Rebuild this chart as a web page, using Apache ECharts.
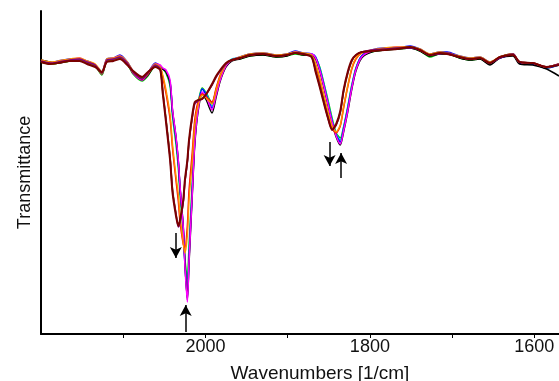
<!DOCTYPE html>
<html>
<head>
<meta charset="utf-8">
<script src="https://cdn.jsdelivr.net/npm/echarts@6/dist/echarts.min.js"></script>
<style>
html,body{margin:0;padding:0;background:#fff;}
#chart{width:559px;height:381px;}
</style>
</head>
<body>
<div id="chart"></div>
<script>
// Wavenumbers (1/cm)
const wavenumbers = [
 2200,2189,2179,2165,2153,2144,2134,2126,2120,2112,2104,2095,2088,2077,2070,2061,2055,
 2052,2048,2043,2040,2036,2033,2031,2027,2025,2022,2020,2016,2013,2009,2004,1999,1992,1987,1982,1975,1968,
 1958,1946,1930,1913,1901,1891,1881,1871,
 1866,1861,1856,1851,1846,1841,1836,1832,1827,1822,1817,1810,
 1798,1782,1767,1751,1739,1727,1715,1706,1691,1678,1666,1654,1642,1626,1618,1602,1585,1570
];
// Transmittance (arbitrary units), one array per spectrum
const green = [
 272,270,271,273,274,271,268,259,273,274,276,270,260,253,258,268,266,
 265,261,248,217,191,166,140,102,76,55,88,152,200,230,246,241,231,244,257,269,274,
 275,278,279,277,278,280,279,279,
 276,267,251,234,216,201,196,207,227,249,266,278,
 282,284,285,286,283,277,280,280,276,274,275,270,276,279,271,270,266,269
];
const cyan = [
 273,271,272,274,275,272,269,262,274,275,277,271,262,255,260,269,267,
 266,263,250,220,195,170,145,104,72,42,78,146,195,228,245,240,228,242,256,269,275,
 276,279,280,278,279,282,280,280,
 277,266,250,232,214,200,194,206,226,248,265,278,
 283,285,286,287,284,279,281,281,277,275,276,271,277,280,272,271,267,270
];
const blue = [
 272,271,273,275,275,273,269,262,275,276,279,272,263,256,261,271,268,
 265,263,252,222,197,172,147,106,70,36,75,143,192,226,245,239,226,240,255,268,274,
 277,280,281,279,280,283,281,280,
 277,265,249,231,213,199,192,205,225,247,265,278,
 284,286,286,288,285,280,282,282,278,276,277,272,276,279,271,270,266,269
];
const black = [
 274,272,271,273,274,271,268,260,273,274,276,270,261,254,259,268,266,
 265,262,251,223,198,173,148,108,72,34,70,139,189,222,240,234,221,237,253,267,273,
 275,278,279,277,278,281,279,279,
 275,263,247,229,211,197,189,202,222,245,263,276,
 282,284,285,286,283,278,280,280,276,274,275,269,276,278,270,269,265,258
];
const magenta = [
 273,270,272,274,276,272,268,260,274,276,278,271,261,254,260,270,269,
 266,264,254,224,199,174,149,107,69,32,72,141,191,224,242,237,224,239,254,268,274,
 276,279,280,278,279,282,280,280,
 276,264,248,230,212,198,190,203,223,246,264,277,
 283,285,287,287,284,279,281,281,277,275,276,271,277,280,272,271,267,270
];
const red = [
 273,271,272,274,275,272,269,261,274,275,277,271,262,255,260,269,266,
 257,241,215,185,155,133,113,90,86,108,143,182,214,232,240,237,232,246,259,270,274,
 276,279,280,278,279,281,280,279,
 269,254,237,220,206,201,208,226,247,265,275,281,
 283,285,286,287,284,279,281,280,277,275,276,271,277,280,272,271,267,270
];
const orange = [
 274,272,273,275,276,273,270,262,275,276,278,272,263,256,261,270,267,
 259,244,219,189,159,139,119,91,81,99,134,174,209,229,239,236,230,244,258,270,274,
 277,280,281,279,280,282,281,279,
 270,256,239,222,208,202,209,227,248,266,276,281,
 284,286,287,287,285,280,282,281,278,276,277,272,277,280,272,271,267,270
];
const olive = [
 272,270,271,273,274,271,268,260,273,274,276,270,262,256,261,268,265,
 245,216,178,145,122,110,112,132,152,172,192,217,231,234,236,240,249,257,263,270,274,
 276,279,280,278,279,281,280,278,
 264,249,233,217,205,209,221,242,260,273,279,282,
 283,285,286,287,284,279,281,281,277,275,276,271,277,280,272,271,267,270
];
const purple = [
 273,271,272,274,275,272,269,261,274,275,277,271,262,255,261,269,265,
 243,214,176,143,121,107,111,131,151,171,191,216,230,233,235,240,249,257,263,270,274,
 276,279,280,278,279,281,280,277,
 263,248,232,216,204,209,222,243,261,273,279,282,
 284,285,286,286,284,279,280,281,277,275,276,271,276,280,272,271,267,270
];
const darkBrown = [
 272,270,271,273,273,270,267,262,272,273,275,269,263,257,262,267,264,
 241,212,174,141,119,108,114,134,154,174,194,219,232,234,235,240,250,258,264,271,274,
 276,279,280,278,279,281,280,277,
 262,247,231,216,204,210,223,244,262,274,279,282,
 283,284,285,287,284,279,281,280,277,275,276,271,277,279,272,271,267,269
];
// Arrow annotations: [wavenumber, tail value, head value]
const arrows = [
 [2036, 101, 76],
 [2024, 2, 29],
 [1849, 192, 168],
 [1835, 156, 181]
];
const tickValues = [2100, 2000, 1900, 1800, 1700, 1600];
const labelValues = [2000, 1800, 1600];

const spectra = [
 ['green', green, '#00c000'],
 ['cyan', cyan, '#00e0e0'],
 ['blue', blue, '#0000ff'],
 ['black', black, '#000000'],
 ['magenta', magenta, '#ff00ff'],
 ['red', red, '#ff0000'],
 ['orange', orange, '#ff8c00'],
 ['olive', olive, '#808000'],
 ['purple', purple, '#800080'],
 ['darkBrown', darkBrown, '#7a0000']
];
spectra.forEach(s => { if (s[1].length !== wavenumbers.length) throw new Error(s[0] + ' length ' + s[1].length); });

const series = spectra.map(([name, vals, color]) => ({
  type: 'line', name: name, showSymbol: false, smooth: 0.25,
  lineStyle: {width: name === 'darkBrown' ? 2 : 1.5, color: color},
  itemStyle: {color: color},
  data: wavenumbers.map((w, i) => [w, vals[i]]),
  z: 2
}));
series.push({
  type: 'line', data: [], silent: true,
  markLine: {
    silent: true, animation: false,
    symbol: ['none', 'arrow'], symbolSize: [9, 11],
    label: {show: false},
    lineStyle: {color: '#000', width: 1.5, type: 'solid'},
    data: arrows.map(a => [{coord: [a[0], a[1]]}, {coord: [a[0], a[2]]}])
  }
});

const chart = echarts.init(document.getElementById('chart'), null, {renderer: 'canvas'});
chart.setOption({
  animation: false,
  backgroundColor: '#fff',
  grid: {left: 41, right: 0, top: 11, bottom: 47, containLabel: false, outerBoundsMode: 'none'},
  xAxis: {
    type: 'value', inverse: true, min: 1570, max: 2200,
    name: 'Wavenumbers [1/cm]', nameLocation: 'middle', nameGap: 30,
    nameTextStyle: {fontFamily: 'Liberation Sans', fontSize: 19, color: '#111', padding: [0, 0, 0, 40]},
    axisLine: {lineStyle: {color: '#000', width: 2}},
    axisTick: {show: true, customValues: tickValues, length: 4, lineStyle: {color: '#000', width: 1}},
    axisLabel: {customValues: labelValues, formatter: v => String(v), fontFamily: 'Liberation Sans', fontSize: 18, color: '#111', margin: 4, hideOverlap: false},
    splitLine: {show: false}
  },
  yAxis: {
    type: 'value', min: 0, max: 323,
    name: 'Transmittance', nameLocation: 'middle', nameGap: 7,
    nameTextStyle: {fontFamily: 'Liberation Sans', fontSize: 18, color: '#111'},
    axisLine: {show: true, lineStyle: {color: '#000', width: 2}},
    axisTick: {show: false}, axisLabel: {show: false}, splitLine: {show: false}
  },
  series: series
});
</script>
</body>
</html>
